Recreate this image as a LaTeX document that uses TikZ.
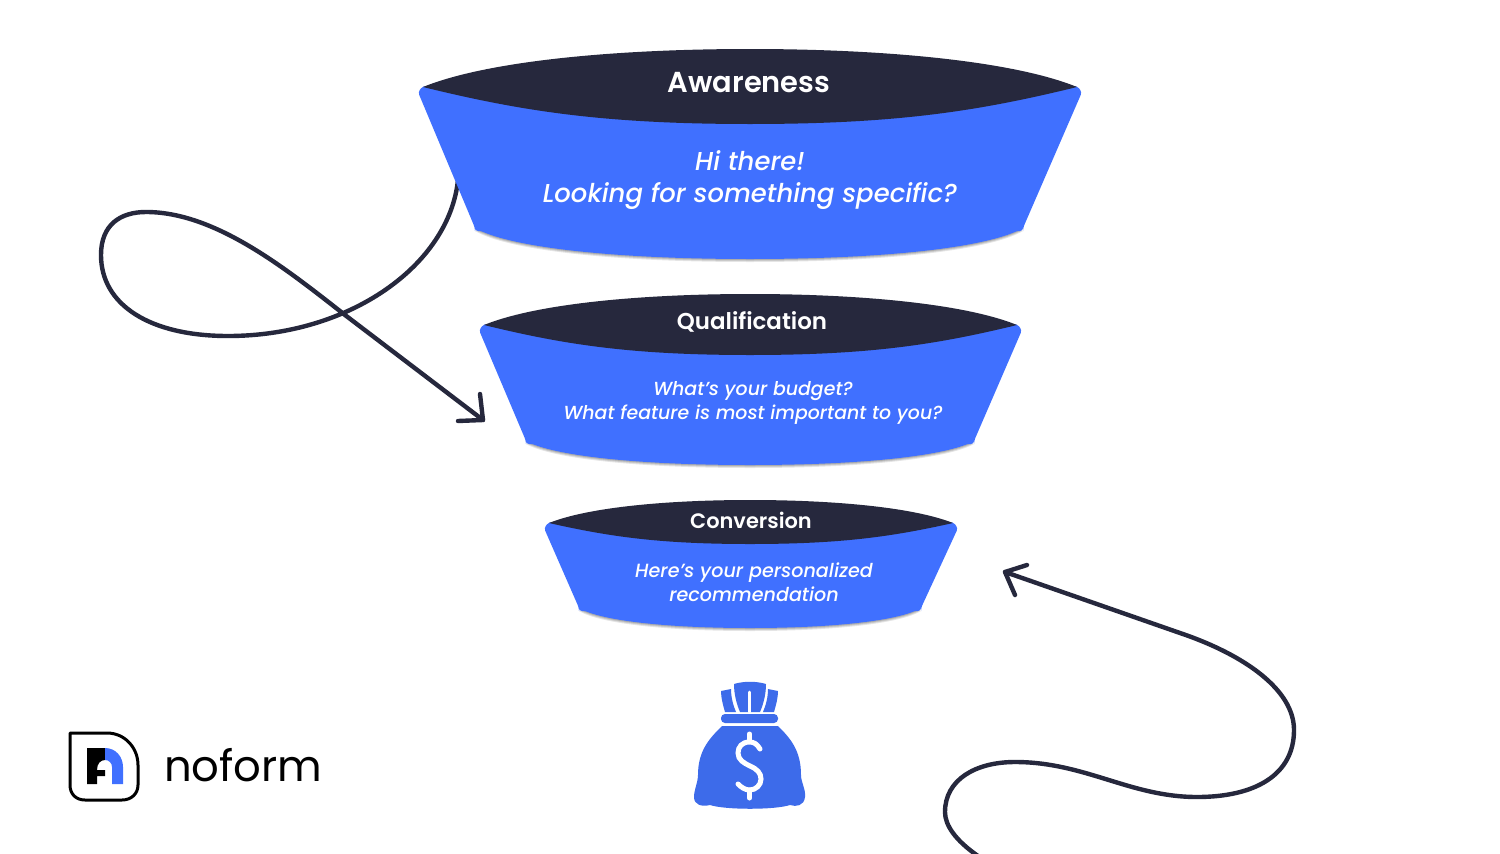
\documentclass[tikz,border=0pt]{standalone}
\usepackage{fontspec}
\setmainfont{Poppins}
\newfontfamily\titlefont{Poppins SemiBold}
\newfontfamily\bodyfont[ItalicFont={Poppins Medium Italic}]{Poppins Medium}
\definecolor{fblue}{HTML}{4070FF}
\definecolor{fdark}{HTML}{26283D}
\definecolor{bagblue}{HTML}{3D6BEA}
\newcommand{\funnelshape}[9]{%
 % xl xr ytip ytop ybot xbl xbr ybl bottom
 \foreach \s/\o in {3/0.10,2/0.12,1/0.14}{
 \fill[black,opacity=\o,yshift=-\s*1bp]
   (#6,#8) .. controls ({#6+0.12*(750-#6)},{#8+0.62*(#9-#8)}) and ({750-0.5*(750-#6)},#9) .. (750,#9)
   .. controls ({750+0.5*(#7-750)},#9) and ({#7-0.12*(#7-750)},{#8+0.62*(#9-#8)}) .. (#7,#8) -- cycle;}
 \fill[fblue,rounded corners=3bp] (#1-5,#3+5) -- (#1,#3-1) -- (#2,#3-1) -- (#2+5,#3+5) -- (#7,#8) -- (#7,#8+3) -- (#6,#8+3) -- (#6,#8) -- cycle;
 \fill[fblue]
   (#6,#8) .. controls ({#6+0.12*(750-#6)},{#8+0.62*(#9-#8)}) and ({750-0.5*(750-#6)},#9) .. (750,#9)
   .. controls ({750+0.5*(#7-750)},#9) and ({#7-0.12*(#7-750)},{#8+0.62*(#9-#8)}) .. (#7,#8) -- cycle;
 \fill[fdark]
   (#1,#3) .. controls ({#1+0.2*(750-#1)},{#3+0.7*(#4-#3)}) and ({750-0.4*(750-#1)},#4) .. (750,#4)
   .. controls ({750+0.4*(#2-750)},#4) and ({#2-0.2*(#2-750)},{#3+0.7*(#4-#3)}) .. (#2,#3)
   .. controls ({#2-0.3*(#2-750)},{#3+0.65*(#5-#3)}) and ({750+0.45*(#2-750)},#5) .. (750,#5)
   .. controls ({750-0.45*(750-#1)},#5) and ({#1+0.3*(750-#1)},{#3+0.65*(#5-#3)}) .. (#1,#3) -- cycle;
}
\tikzset{
  x=1bp,y=-1bp,
  curveline/.style={draw=fdark,line width=4.4bp,line cap=round,line join=round},
  title/.style={text=white,align=center,inner sep=0pt},
  body/.style={text=white,align=center,inner sep=0pt},
}
\begin{document}
\begin{tikzpicture}
\useasboundingbox (0,0) rectangle (1500,853);
\fill[white] (0,0) rectangle (1500,853);
% left curve, goes behind funnel
\coordinate (c1s) at (458,180);
\coordinate (c1e) at (483,420);
\draw[curveline]
 (c1s) .. controls (449,265) and (350,336) .. (228,336)
 .. controls (150,336) and (101,305) .. (101,255)
 .. controls (101,225) and (120,212) .. (146,212)
 .. controls (215,212) and (285,268) .. (345,315)
 -- (c1e);
\coordinate (c1a) at (458,421);
\coordinate (c1b) at (480,394);
\draw[curveline] (c1a) -- (c1e) -- (c1b);
% right curve
\coordinate (c2s) at (978,856);
\coordinate (c2e) at (1005,572);
\draw[curveline]
 (c2s) .. controls (955,840) and (945,825) .. (945,812)
 .. controls (945,780) and (975,762) .. (1015,762)
 .. controls (1085,762) and (1130,797) .. (1197,797)
 .. controls (1255,797) and (1294,775) .. (1294,730)
 .. controls (1294,690) and (1245,655) .. (1180,633)
 -- (c2e);
\coordinate (c2a) at (1027,565);
\coordinate (c2b) at (1015,595);
\draw[curveline] (c2a) -- (c2e) -- (c2b);
% funnels
\funnelshape{423}{1077}{87}{49}{124}{475}{1023}{228}{259}
\funnelshape{484}{1017}{325}{294}{355}{526}{974}{441}{465}
\funnelshape{549}{953}{523}{500}{544}{579}{921}{608}{628}
% text
\node[title,font=\titlefont\fontsize{29}{34}\selectfont] (t1) at (749,83) {Awareness};
\node[body,font=\bodyfont\fontsize{26}{33}\selectfont\itshape] (b1) at (750,180) {Hi there!\\Looking for something specific?};
\node[title,font=\titlefont\fontsize{23}{26}\selectfont] (t2) at (752,321.5) {Qualification};
\node[body,font=\bodyfont\fontsize{19}{24}\selectfont\itshape] (b2) at (753,403) {What’s your budget?\\What feature is most important to you?};
\node[title,font=\titlefont\fontsize{21}{24}\selectfont] (t3) at (751,520) {Conversion};
\node[body,font=\bodyfont\fontsize{19.2}{24}\selectfont\itshape] (b3) at (754,582) {Here’s your personalized\\recommendation};
% bag
\fill[bagblue] (722,726) -- (778,726) .. controls (790,738) and (801,750) .. (801,775)
 .. controls (801,782) and (806,790) .. (805,797) .. controls (804,806) and (796,807) .. (790,805)
 .. controls (775,810) and (725,810) .. (710,805) .. controls (702,807) and (694,805) .. (694,797)
 .. controls (694,790) and (698,782) .. (698,775) .. controls (698,750) and (710,738) .. (722,726) -- cycle;
\fill[bagblue,rounded corners=4bp] (721,714) rectangle (778,723);
\fill[bagblue] (734,684) .. controls (744,681) and (756,681) .. (766,684) .. controls (766,695) and (763,705) .. (760,712) -- (740,712) .. controls (737,705) and (734,695) .. (734,684) -- cycle;
\fill[bagblue] (721,691) -- (731,689) .. controls (731,697) and (733,705) .. (736,712) -- (725,712) .. controls (723,705) and (721,698) .. (721,691) -- cycle;
\fill[bagblue] (778,691) -- (768,689) .. controls (768,697) and (766,705) .. (763,712) -- (774,712) .. controls (776,705) and (778,698) .. (778,691) -- cycle;
\draw[white,line width=3bp,line cap=round] (749.5,692) -- (749.5,712);
\draw[white,line width=5bp,line cap=round] (749.5,734) -- (749.5,741) (749.5,790) -- (749.5,798);
\draw[white,line width=5bp,line cap=round] (760,749) .. controls (757,744) and (754,742) .. (749.5,742)
 .. controls (742,742) and (738,747) .. (738,753) .. controls (738,760) and (744,763) .. (750,766)
 .. controls (757,769) and (761,773) .. (761,779) .. controls (761,785) and (756,790) .. (749.5,790)
 .. controls (745,790) and (741,787) .. (738,784);
% logo
\draw[black,line width=3bp,line join=round] (70,733) -- (107,733) .. controls (125,733) and (138,748) .. (138,765) -- (138,785) .. controls (138,794) and (131,800) .. (122,800) -- (85,800) .. controls (76,800) and (70,794) .. (70,785) -- cycle;
\fill[black] (87,748) -- (105,748) -- (105,760) .. controls (101,760) and (97,763) .. (97,770) -- (105,770) -- (105,776) -- (97,776) -- (97,784) -- (87,784) -- cycle;
\fill[fblue] (105,748) .. controls (116,748) and (123,757) .. (123,767) -- (123,784) -- (112,784) -- (112,767) .. controls (112,763) and (109,760) .. (105,760) -- cycle;
\node[inner sep=0pt,anchor=west,text=black] (logo) at (164,765) {\fontspec{Poppins}\fontsize{43.5}{50}\selectfont noform};
\end{tikzpicture}
\end{document}
